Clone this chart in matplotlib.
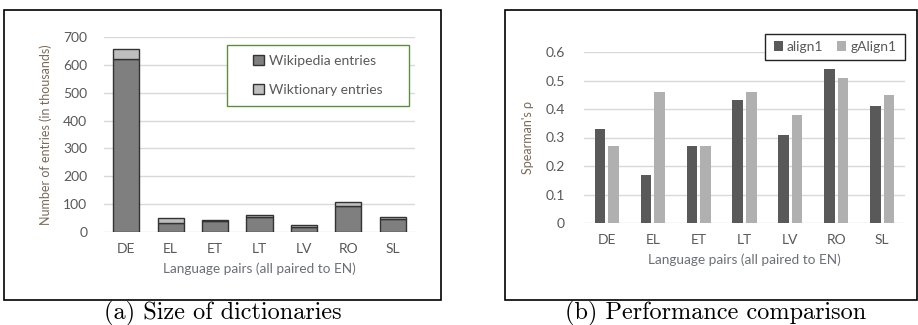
import matplotlib
matplotlib.use("Agg")
import matplotlib.pyplot as plt
from matplotlib.patches import Rectangle
import numpy as np

langs = ["DE", "EL", "ET", "LT", "LV", "RO", "SL"]
wikipedia = [620, 32, 39, 55, 17, 93, 48]
wiktionary = [37, 19, 5, 6, 8, 16, 6]
align1 = [0.33, 0.17, 0.27, 0.43, 0.31, 0.54, 0.41]
galign1 = [0.27, 0.46, 0.27, 0.46, 0.38, 0.51, 0.45]
yticks_a = [0, 100, 200, 300, 400, 500, 600, 700]
yticks_b = [0, 0.1, 0.2, 0.3, 0.4, 0.5, 0.6]

W, H = 918, 325
fig = plt.figure(figsize=(W / 100, H / 100), dpi=100)
FONT = "Lato"
tick_c = "#595959"
lab_c = "#7a6a58"
xlab_c = "#6b6f78"
TS = 10
LS = 9.8

def fx(px):
    return px / W

def fy(py):
    return 1 - py / H

def frame(ax, x0, y0, x1, y1, color, lw, z=3):
    ax.add_patch(Rectangle((fx(x0), fy(y1)), fx(x1) - fx(x0), fy(y0) - fy(y1),
                           transform=fig.transFigure, fill=True, facecolor="white",
                           edgecolor=color, lw=lw, zorder=z, clip_on=False))

# panel frames
fig.patches.append(Rectangle((fx(4), fy(300)), fx(441) - fx(4), fy(10) - fy(300),
                             transform=fig.transFigure, fill=False, edgecolor="black", lw=1.2))
fig.patches.append(Rectangle((fx(505), fy(300)), fx(917) - fx(505), fy(10) - fy(300),
                             transform=fig.transFigure, fill=False, edgecolor="black", lw=1.2))

def style(ax):
    for s in ax.spines.values():
        s.set_visible(False)
    ax.tick_params(length=0, labelsize=TS, labelcolor=tick_c)
    for t in ax.get_xticklabels() + ax.get_yticklabels():
        t.set_fontfamily(FONT)
    ax.yaxis.grid(True, color="#d9d9d9", lw=1)
    ax.set_axisbelow(True)

# (a)
ax1 = fig.add_axes([fx(104), fy(232), fx(415) - fx(104), fy(37) - fy(232)])
x = np.arange(len(langs))
ax1.bar(x, wikipedia, width=0.59, color="#7f7f7f", edgecolor="#333333", lw=1, label="Wikipedia entries")
ax1.bar(x, wiktionary, width=0.59, bottom=wikipedia, color="#bfbfbf", edgecolor="#333333", lw=1,
        label="Wiktionary entries")
ax1.set_xlim(-0.5, 6.5)
ax1.set_ylim(0, 700)
ax1.set_yticks(yticks_a)
ax1.set_xticks(x)
ax1.set_xticklabels(langs)
ax1.tick_params(axis="x", pad=8)
ax1.tick_params(axis="y", pad=12)
style(ax1)
ax1.set_xlabel("Language pairs (all paired to EN)", fontfamily=FONT, fontsize=LS, color=xlab_c, labelpad=5)
ax1.set_ylabel("Number of entries (in thousands)", fontfamily=FONT, fontsize=9, color=lab_c, labelpad=8)
frame(ax1, 227, 45, 409, 106, "#5f8f3e", 1)
leg1 = ax1.legend(loc="center", bbox_to_anchor=(fx(318), fy(75.5)), bbox_transform=fig.transFigure,
                  prop={"family": FONT, "size": 10}, frameon=False,
                  handlelength=0.75, handleheight=0.75, labelspacing=1.2, borderpad=0,
                  handletextpad=0.4, borderaxespad=0)
leg1.set_zorder(5)
for t in leg1.get_texts():
    t.set_color(tick_c)

# (b)
ax2 = fig.add_axes([fx(584), fy(223), fx(905) - fx(584), fy(52) - fy(223)])
off = 0.147
bw = 0.23
ax2.bar(x - off, align1, width=bw, color="#595959", label="align1")
ax2.bar(x + off, galign1, width=bw, color="#b0b0b0", label="gAlign1")
ax2.set_xlim(-0.5, 6.5)
ax2.set_ylim(0, 0.6)
ax2.set_yticks(yticks_b)
ax2.set_yticklabels(["0", "0.1", "0.2", "0.3", "0.4", "0.5", "0.6"])
ax2.set_xticks(x)
ax2.set_xticklabels(langs)
ax2.tick_params(axis="x", pad=8)
ax2.tick_params(axis="y", pad=14)
style(ax2)
ax2.set_xlabel("Language pairs (all paired to EN)", fontfamily=FONT, fontsize=LS, color=xlab_c, labelpad=5)
ax2.set_ylabel("Spearman's ρ", fontfamily=FONT, fontsize=9, color=lab_c, labelpad=8)
frame(ax2, 765, 34, 905, 60, "#222222", 1)
leg2 = ax2.legend(loc="center", bbox_to_anchor=(fx(835), fy(47)), bbox_transform=fig.transFigure,
                  ncol=2, prop={"family": FONT, "size": 10}, frameon=False,
                  handlelength=0.65, handleheight=0.65, borderpad=0, columnspacing=1.0,
                  handletextpad=0.3, borderaxespad=0)
leg2.set_zorder(5)
for t in leg2.get_texts():
    t.set_color(tick_c)

# captions
fig.text(fx(223), fy(313), "(a) Size of dictionaries", ha="center", va="center",
         fontfamily="cmr10", fontsize=17.5)
fig.text(fx(716), fy(313), "(b) Performance comparison", ha="center", va="center",
         fontfamily="cmr10", fontsize=17.5)

fig.savefig("out.png", dpi=100)
